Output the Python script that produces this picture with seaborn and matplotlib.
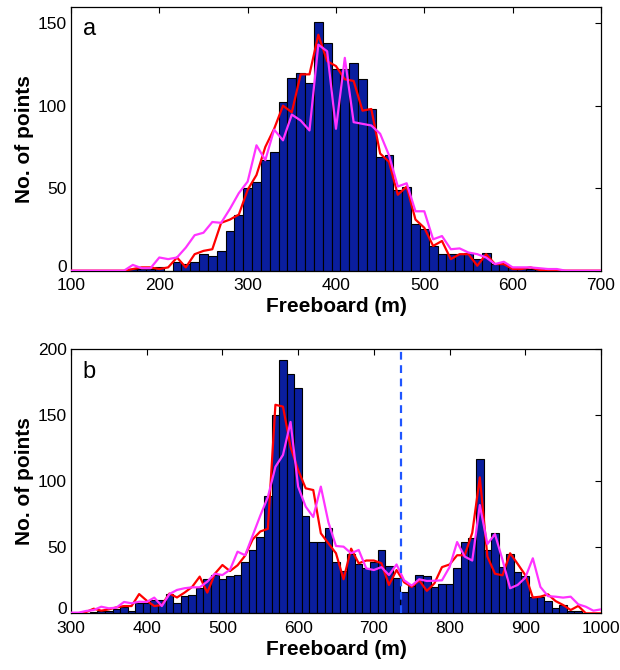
import numpy as np
import pandas as pd
import matplotlib
matplotlib.use("Agg")
import matplotlib.pyplot as plt
import matplotlib.transforms as mtransforms
import seaborn as sns

# ---------------- data: panel a ----------------
a_bar_centers = list(range(170, 650, 10))
a_bar_counts = [1, 1, 1, 2, 0, 5, 4, 5, 10, 9, 12, 24, 34, 50, 54, 67, 72, 102,
                117, 120, 114, 151, 138, 122, 122, 126, 116, 98, 69, 70, 49, 51,
                28, 25, 15, 10, 10, 10, 11, 7, 11, 4, 4, 2, 2, 1, 1, 0]
a_line_x = list(range(100, 710, 10))
a_red = [0, 0, 0, 0, 0, 0, 0, 1, 2, 2, 1, 2, 8, 2, 10, 12, 13, 29, 31, 34,
         49, 58, 75, 86, 100, 96, 119, 119, 143, 127, 124, 116, 115, 97, 98,
         71, 66, 46, 51, 31, 26, 15, 18, 7, 10, 10, 3, 10, 4, 4, 1, 1, 2,
         0.5, 0, 0, 0, 0, 0, 0, 0]
a_magenta = [0, 0, 0, 0, 0, 0, 0, 3.5, 1.5, 1.5, 8, 7, 8, 14, 21.5, 23, 29.5,
             29, 37.5, 47, 54, 76, 67, 85.5, 79, 94.6, 91, 85, 137, 133, 86,
             129, 90, 89, 88, 83, 70, 51, 53, 36, 36, 19, 21, 13, 13.5, 11,
             10, 8, 4, 5.4, 2, 2, 2, 1.5, 1, 1, 0, 0, 0, 0, 0]

# ---------------- data: panel b ----------------
b_bar_centers = list(range(320, 980, 10))
b_bar_counts = [0, 1, 2, 2, 3, 5, 2, 8, 8, 10, 10, 15, 8, 13, 14, 19, 26, 29,
                26, 28, 29, 39, 48, 58, 89, 150, 192, 181, 171, 74, 54, 54, 65,
                39, 32, 45, 37, 34, 39, 48, 36, 27, 16, 21, 29, 28, 20, 22, 22,
                34, 54, 57, 117, 48, 61, 35, 45, 31, 28, 12, 12, 9, 4, 6, 2, 2]
b_line_x = list(range(300, 1010, 10))
b_red = [0, 0, 1, 3.5, 2, 3, 4.5, 5.5, 5.5, 14.6, 9.6, 5.5, 6.3, 15, 12, 15.7,
         20, 27.8, 15.7, 30, 36.6, 32, 36.4, 43.7, 56, 62, 64, 158, 156.6, 126,
         108.6, 94.7, 93.4, 60.6, 53, 45.5, 25.8, 49, 37.9, 40, 40, 38, 21.5,
         32.8, 23.5, 20, 25, 17, 22.7, 35, 37, 44, 44, 61, 103, 43, 30, 28.8,
         45.5, 37.4, 29, 12, 12.6, 14.4, 9.3, 6.3, 2.5, 5.6, 0, 0, 0]
b_magenta = [0.5, 0.5, 1.8, 2.5, 5, 3.8, 4.3, 8.6, 7.6, 8.8, 8.6, 11.9, 5.5,
             14.6, 17.7, 19, 19.7, 19.7, 24, 30, 29, 33, 46.7, 44, 59, 74, 88,
             111, 120, 145, 96, 80.8, 73, 96, 69, 51, 50.5, 45.5, 48, 34, 32.8,
             35, 29, 37, 25, 21, 25.8, 24.5, 24.7, 25, 35, 54, 43, 40, 82,
             52.5, 60, 40.4, 19, 21.5, 27, 41.7, 20, 13, 12.6, 11.9, 12.6, 6.8,
             5, 2, 3]
b_threshold = 736

a_xticks = [100, 200, 300, 400, 500, 600, 700]
a_yticks = [0, 50, 100, 150]
b_xticks = [300, 400, 500, 600, 700, 800, 900, 1000]
b_yticks = [0, 50, 100, 150, 200]

# ---------------- style ----------------
sns.set_style("white")
plt.rcParams['font.family'] = ['Liberation Sans', 'DejaVu Sans']
plt.rcParams['text.color'] = 'black'
plt.rcParams['axes.labelcolor'] = 'black'

BAR = '#0A1E9E'
RED = '#FF0000'
MAG = '#FF33FF'

fig = plt.figure(figsize=(6.2, 6.7), dpi=100)
ax_a = fig.add_axes([0.1145, 0.596, 0.8548, 0.394])
ax_b = fig.add_axes([0.1145, 0.0846, 0.8548, 0.394])


def draw(ax, centers, counts, lx, red, mag, xlim, ylim, xticks, yticks, letter):
    df = pd.DataFrame({'x': np.asarray(centers, float),
                       'n': np.asarray(counts, float)})
    sns.histplot(data=df, x='x', weights='n', binwidth=10,
                 binrange=(centers[0] - 5, centers[-1] + 5), ax=ax, color=BAR,
                 edgecolor='black', linewidth=0.8, alpha=1.0)
    ldf = pd.DataFrame({'x': lx, 'red': red, 'mag': mag})
    sns.lineplot(data=ldf, x='x', y='red', ax=ax, color=RED, lw=1.6,
                 estimator=None, zorder=3)
    sns.lineplot(data=ldf, x='x', y='mag', ax=ax, color=MAG, lw=1.6,
                 estimator=None, zorder=4)
    ax.set_xlim(*xlim)
    ax.set_ylim(*ylim)
    ax.set_xticks(xticks)
    ax.set_yticks(yticks)
    ax.tick_params(direction='in', top=True, right=True, length=4, width=0.8,
                   labelsize=12.5, colors='black')
    ax.tick_params(axis='x', pad=5.5)
    ax.tick_params(axis='y', pad=3)
    for s in ax.spines.values():
        s.set_visible(True)
        s.set_color('black')
        s.set_linewidth(0.9)
    ax.set_xlabel('Freeboard (m)', fontsize=15, fontweight='bold', labelpad=3)
    ax.set_ylabel('No. of points', fontsize=15, fontweight='bold', labelpad=3)
    ax.text(0.022, 0.915, letter, transform=ax.transAxes, fontsize=17,
            va='center', ha='left', color='black')
    # lift the "0" y tick label a little so it sits just above the x label
    lab0 = ax.get_yticklabels()[0]
    lab0.set_transform(lab0.get_transform() +
                       mtransforms.ScaledTranslation(0, 3.5 / 72,
                                                     fig.dpi_scale_trans))


draw(ax_a, a_bar_centers, a_bar_counts, a_line_x, a_red, a_magenta,
     (100, 700), (0, 160), a_xticks, a_yticks, 'a')
draw(ax_b, b_bar_centers, b_bar_counts, b_line_x, b_red, b_magenta,
     (300, 1000), (0, 200), b_xticks, b_yticks, 'b')
ax_b.axvline(b_threshold, color='#1F55FF', lw=1.6, ls=(0, (3.5, 2.5)), zorder=5)

fig.savefig('out.png', dpi=100)
